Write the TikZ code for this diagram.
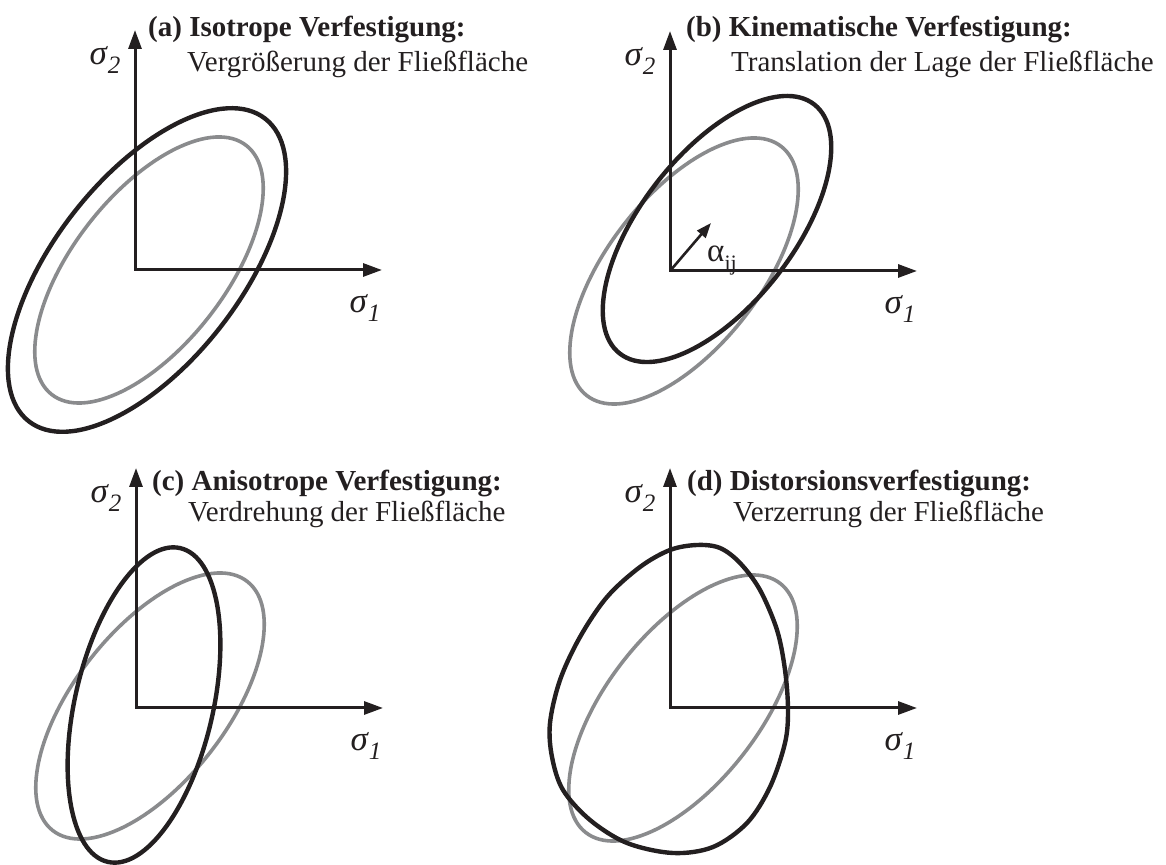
\documentclass[tikz,border=0pt]{standalone}
\usepackage{fontspec}
\setmainfont{Liberation Serif}
\usetikzlibrary{arrows.meta,calc,positioning}
\definecolor{ink}{HTML}{231F20}
\definecolor{initgray}{HTML}{8A8B8D}
\newcommand{\sig}[1]{{\fontsize{35}{35}\selectfont\textit{σ}}\raisebox{-0.3em}{\fontsize{25}{25}\selectfont\textit{#1}}}
\newcommand{\idx}[1]{\raisebox{-0.25em}{\fontsize{22}{22}\selectfont #1}}
\tikzset{
  axis/.style={{Triangle[length=19pt,width=13pt]}-{Triangle[length=19pt,width=13pt]},line width=3pt,draw=ink},
  shiftarrow/.style={-{Triangle[length=15pt,width=11pt]},line width=2.6pt,draw=ink},
  oldsurf/.style={line width=3.6pt,draw=initgray},
  newsurf/.style={line width=4.4pt,draw=ink},
  sym/.style={inner sep=0pt,text=ink},
  head/.style={inner sep=0pt,anchor=base west,text=ink,font=\fontsize{29}{34}\selectfont\bfseries},
  sub/.style={inner sep=0pt,anchor=base west,text=ink}
}

\begin{document}
\begin{tikzpicture}[x=1pt,y=1pt,font=\fontsize{29}{34}\selectfont]
  \useasboundingbox (0,0) rectangle (1166,864);
  % axes of the four panels
  \foreach \p/\x/\y in {a/135/594,b/670/593,c/136/156,d/670/156}{
    \coordinate (o\p) at (\x,\y);
    \coordinate (y\p) at (\x,\y+240);
    \coordinate (x\p) at (\x+247,\y);
    \node[sym] (s2\p) at ($(o\p)+(-30,210)$) {\sig{2}};
    \node[sym] (s1\p) at ($(o\p)+(230,-38)$) {\sig{1}};
  }

  % (a)
  \draw[oldsurf] ($(oa)+(14,0)$) ellipse [x radius=158pt,y radius=76pt,rotate=52];
  \draw[newsurf] ($(oa)+(12,0)$) ellipse [x radius=192pt,y radius=93pt,rotate=52];
  \node[head] (ta1) at (148,827) {(a) Isotrope Verfestigung:};
  \node[sub] (ta2) at (187,792) {Vergrößerung der Fließfläche};

  % (b)
  \draw[oldsurf] ($(ob)+(14,0)$) ellipse [x radius=158pt,y radius=76pt,rotate=52];
  \draw[newsurf] ($(ob)+(47,42)$) ellipse [x radius=158pt,y radius=76pt,rotate=52];
  \coordinate (alphatip) at ($(ob)+(41,48)$);
  \draw[shiftarrow] (ob) -- (alphatip);
  \node[sub,font=\fontsize{33}{34}\selectfont] (alpha) at ($(ob)+(37,9)$) {α\idx{ij}};
  \node[head] (tb1) at (686,827) {(b) Kinematische Verfestigung:};
  \node[sub] (tb2) at (731,792) {Translation der Lage der Fließfläche};

  % (c)
  \draw[oldsurf] ($(oc)+(14,2)$) ellipse [x radius=158pt,y radius=76pt,rotate=52];
  \draw[newsurf] ($(oc)+(8,3)$) ellipse [x radius=161pt,y radius=69pt,rotate=77];
  \node[head] (tc1) at (152,373) {(c) Anisotrope Verfestigung:};
  \node[sub] (tc2) at (188,342) {Verdrehung der Fließfläche};

  % (d)
  \draw[oldsurf] ($(od)+(13,0)$) ellipse [x radius=158pt,y radius=76pt,rotate=52];
  \begin{scope}[shift={(od)}]
    \draw[newsurf] plot[smooth cycle,tension=0.55] coordinates {
      (27,163) (0,158) (-30,141) (-63,111) (-90,71) (-110,28) (-120,-15)
      (-118,-49) (-107,-82) (-80,-112) (-43,-135) (3,-145) (43,-139)
      (77,-115) (100,-79) (115,-35) (118,-2) (115,38) (107,78) (90,118)
      (70,145) (50,160)};
  \end{scope}
  \node[head] (td1) at (687,373) {(d) Distorsionsverfestigung:};
  \node[sub] (td2) at (733,342) {Verzerrung der Fließfläche};

  \foreach \p in {a,b,c,d}
    \draw[axis] (y\p) -- (o\p) -- (x\p);
\end{tikzpicture}
\end{document}
